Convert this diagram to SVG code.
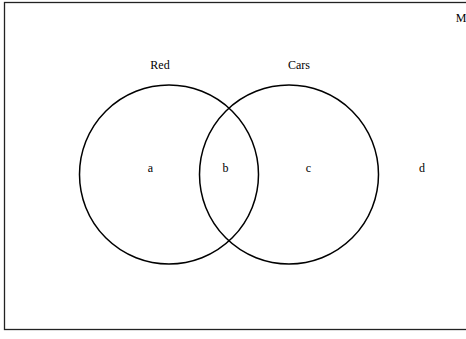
<svg xmlns="http://www.w3.org/2000/svg" width="466" height="339" viewBox="0 0 466 339">
<style>
.set{fill:none;stroke:#000;stroke-width:1.5}
.t{font-family:"Liberation Serif","DejaVu Serif",serif;font-size:12px;fill:#000;text-anchor:middle}
</style>
<rect width="466" height="339" fill="#fff"/>
<g id="universe">
<rect x="4.5" y="2.5" width="470" height="327" fill="none" stroke="#222" stroke-width="1.3"/>
<text class="t" x="461" y="22">M</text>
</g>
<g id="red">
<circle class="set" cx="169" cy="174.5" r="89.5"/>
<text class="t" x="160" y="69">Red</text>
</g>
<g id="cars">
<circle class="set" cx="289" cy="174.5" r="89.5"/>
<text class="t" x="299" y="69">Cars</text>
</g>
<g id="regions">
<text class="t" x="150.5" y="172">a</text>
<text class="t" x="225.5" y="172">b</text>
<text class="t" x="308.5" y="172">c</text>
<text class="t" x="422" y="172">d</text>
</g>
</svg>
